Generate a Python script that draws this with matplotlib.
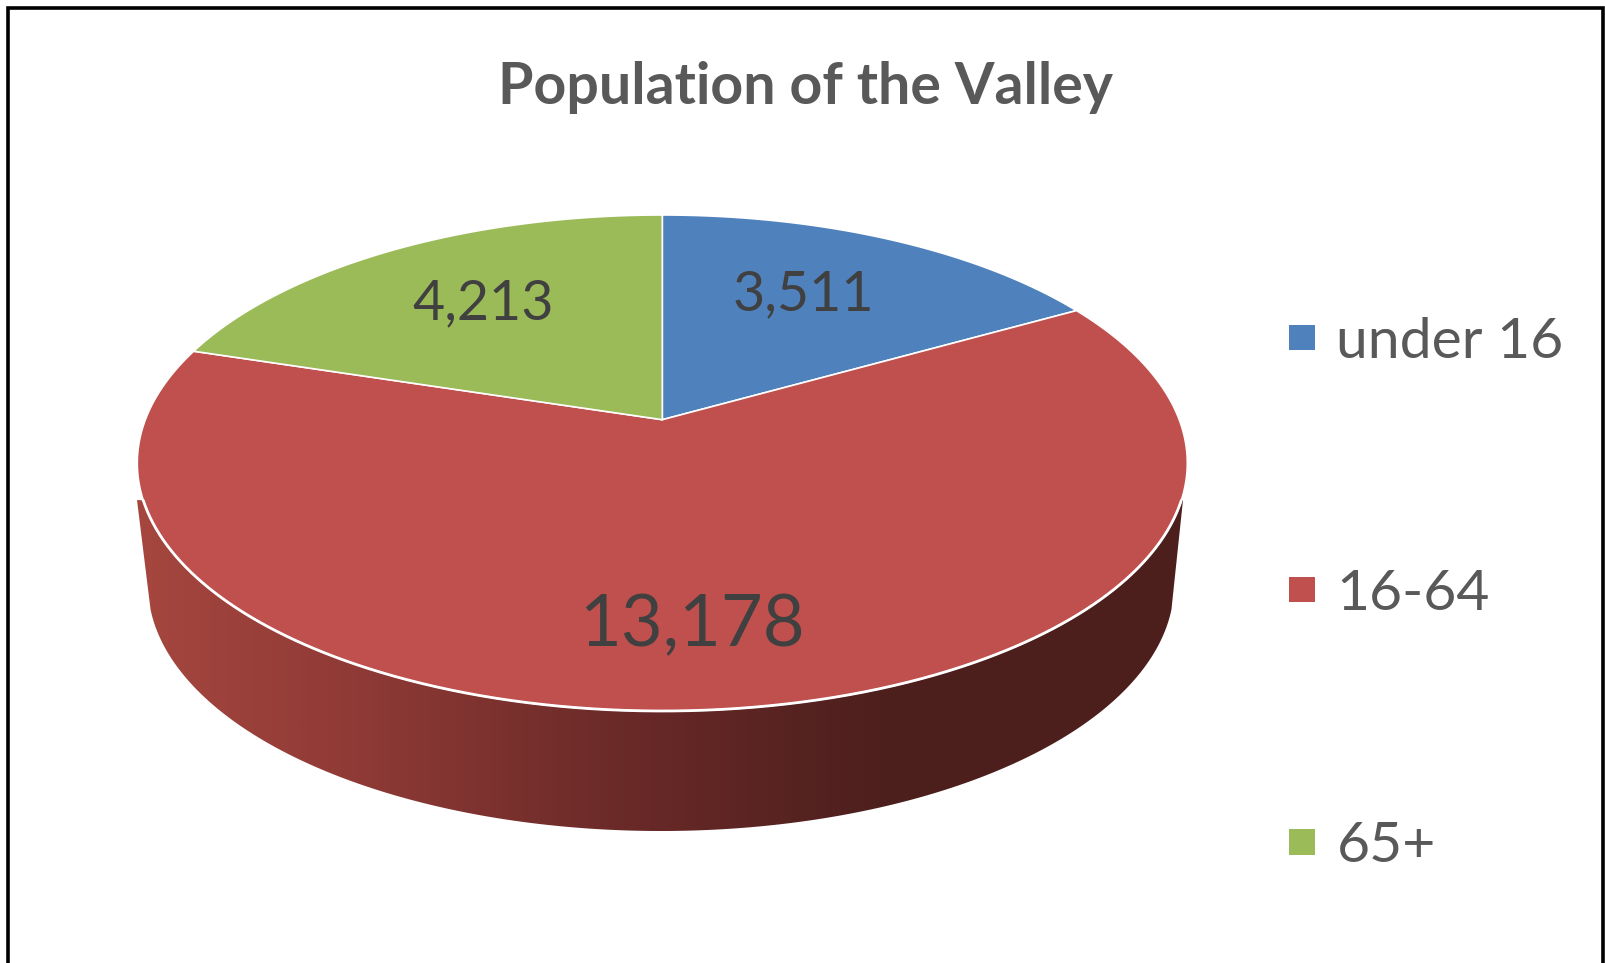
import numpy as np
import matplotlib
matplotlib.use("Agg")
import matplotlib.pyplot as plt
from matplotlib.patches import Patch, Polygon
from matplotlib.path import Path
from matplotlib.transforms import Transform, Affine2D
from matplotlib.colors import LinearSegmentedColormap

categories = ["under 16", "16-64", "65+"]
values = [3511, 13178, 4213]
value_labels = ["3,511", "13,178", "4,213"]
colors = ["#4F81BD", "#C0504D", "#9BBB59"]
title = "Population of the Valley"

W, H = 1605, 963
plt.rcParams["font.family"] = ["Lato", "DejaVu Sans"]

# Perspective of the pie disc, in pixels of the figure
APEX_X, APEX_Y = 662.3, 419.7
TOP_Y, BOT_Y = 215.0, 711.0
RX = 525.0
c = ((BOT_Y + TOP_Y) - 2 * APEX_Y) / (BOT_Y - TOP_Y)
b = TOP_Y * (1 + c) - APEX_Y
d = RX * np.sqrt(1 - c ** 2)


class Tilt(Transform):
    input_dims = 2
    output_dims = 2
    has_inverse = False
    is_separable = False

    def transform_non_affine(self, xy):
        xy = np.asarray(xy, dtype=float)
        u, v = xy[..., 0], xy[..., 1]
        w = 1 + c * v
        return np.stack([APEX_X + d * u / w, (APEX_Y + b * v) / w], axis=-1)

    def transform_path_non_affine(self, path):
        # flatten the arcs first, so the curved rim stays a true projected circle
        polys = path.to_polygons(Affine2D().scale(2000), closed_only=False)
        pts = np.vstack(polys) / 2000
        return Path(self.transform_non_affine(pts))


tilt = Tilt()

fig = plt.figure(figsize=(W / 100, H / 100), dpi=100, facecolor="white")
ax = fig.add_axes([0, 0, 1, 1])

wedges, _ = ax.pie(values, colors=colors, startangle=90, counterclock=False, radius=1,
                   wedgeprops=dict(edgecolor="white", linewidth=1.2, zorder=3))
for w in wedges:
    w.set_transform(tilt + ax.transData)
    w.set_clip_on(False)

ax.set_aspect("auto")
ax.set_xlim(0, W)
ax.set_ylim(H, 0)
ax.axis("off")

# Side wall of the disc
t = np.linspace(0, 2 * np.pi, 1441)
top_edge = tilt.transform_non_affine(np.column_stack([np.cos(t), np.sin(t)]))
front = top_edge[(top_edge[:, 1] >= 500)]
front = front[np.argsort(front[:, 0])]
BX, BY, BRX, BRY = 661.0, 585.0, 513.0, 246.0
s = np.linspace(0.1, np.pi - 0.1, 361)
under = np.column_stack([BX + BRX * np.cos(s), BY + BRY * np.sin(s)])
wall_pts = np.vstack([[[137, 500]], front, [[1183, 500]], under])
wall = Polygon(wall_pts, closed=True, facecolor="none", edgecolor="none", transform=ax.transData)
ax.add_patch(wall)
cmap = LinearSegmentedColormap.from_list("wall", [
    (0.0, "#A4463E"), (0.28, "#8F3A36"), (0.64, "#6A2A28"), (1.0, "#4C1F1D")])
grad = np.linspace(0, 1, 512)[None, :]
ax.imshow(grad, extent=(150, 890, 880, 480), cmap=cmap, vmin=0, vmax=1, aspect="auto", zorder=1)
ax.imshow(np.ones((1, 1)), extent=(890, 1200, 880, 480), cmap=cmap, vmin=0, vmax=1, aspect="auto", zorder=1)
ax.imshow(np.zeros((1, 1)), extent=(130, 150, 880, 480), cmap=cmap, vmin=0, vmax=1, aspect="auto", zorder=1)
for image in ax.images:
    image.set_clip_path(wall)
ax.set_xlim(0, W)
ax.set_ylim(H, 0)

# White rim on the front of the disc
ax.plot(front[:, 0], front[:, 1], color="white", lw=2.0, zorder=4, solid_capstyle="round")

# Value labels
label_pos = [(803, 295), (692, 626), (483, 304)]
label_size = [40, 52, 40]
for txt, pos, fs in zip(value_labels, label_pos, label_size):
    ax.text(*pos, txt, ha="center", va="center", fontsize=fs, color="#404040", zorder=5)

ax.text(806, 87, title, ha="center", va="center", fontsize=41.2, fontweight="bold", color="#595959")

# Legend
handles = [Patch(facecolor=col, edgecolor="none") for col in colors]
fs_leg = 41
px = fs_leg * 100 / 72
ax.legend(handles, categories, loc="upper left",
          bbox_to_anchor=(1289 / W, 1 - 317 / H), bbox_transform=fig.transFigure,
          frameon=False, fontsize=fs_leg, labelcolor="#595959",
          handlelength=25.5 / px, handleheight=0.312, handletextpad=22 / px,
          labelspacing=(253.5 - 0.918 * px) / px, borderpad=0, borderaxespad=0)

# Outer frame, open at the bottom
ax.plot([8, 8, 1603, 1603], [H, 8, 8, H], color="black", lw=2.6, solid_joinstyle="miter", zorder=6)

fig.savefig("out.png", dpi=100)
